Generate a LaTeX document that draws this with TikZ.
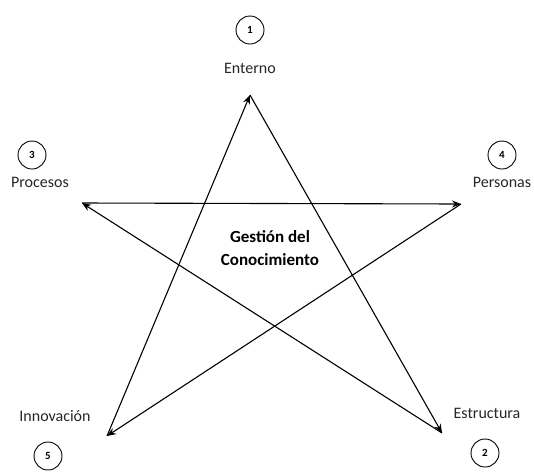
\documentclass[tikz,border=0pt]{standalone}
\usepackage{fontspec}
\setmainfont{Carlito}
\usepackage{tikz}
\usetikzlibrary{arrows.meta,positioning}

\begin{document}
\begin{tikzpicture}[
    x=1pt, y=-1pt,
    num/.style={circle, draw=black, line width=0.9pt, minimum size=28pt, inner sep=0pt, font=\fontsize{11}{12}\selectfont\bfseries},
    lbl/.style={font=\fontsize{16}{18}\selectfont, text=black!85},
    edge/.style={-{Stealth[length=9pt,width=7pt]}, line width=1.1pt}
    ]
    \useasboundingbox (0,0) rectangle (534,472);

    % vertices of the star
    \coordinate (ent) at (250,95);
    \coordinate (est) at (442,433);
    \coordinate (pro) at (82,203);
    \coordinate (per) at (461,204);
    \coordinate (inn) at (107,436);

    % labels and numbers
    \node[num] (n1) at (250,30) {1};
    \node[lbl] (l1) at (250,68) {Enterno};
    \node[num] (n3) at (32,155) {3};
    \node[lbl] (l3) at (40,182) {Procesos};
    \node[num] (n4) at (502,155) {4};
    \node[lbl] (l4) at (502,182) {Personas};
    \node[lbl] (l5) at (55,416) {Innovación};
    \node[num] (n5) at (48,456) {5};
    \node[lbl] (l2) at (487,413) {Estructura};
    \node[num] (n2) at (485,453) {2};

    \node[font=\fontsize{17}{23}\selectfont\bfseries, align=center] (gc) at (270,248) {Gestión del\\Conocimiento};

    \draw[edge] (ent) -- (est);
    \draw[edge] (est) -- (pro);
    \draw[edge] (pro) -- (per);
    \draw[edge] (per) -- (inn);
    \draw[edge] (inn) -- (ent);
  \end{tikzpicture}
\end{document}
